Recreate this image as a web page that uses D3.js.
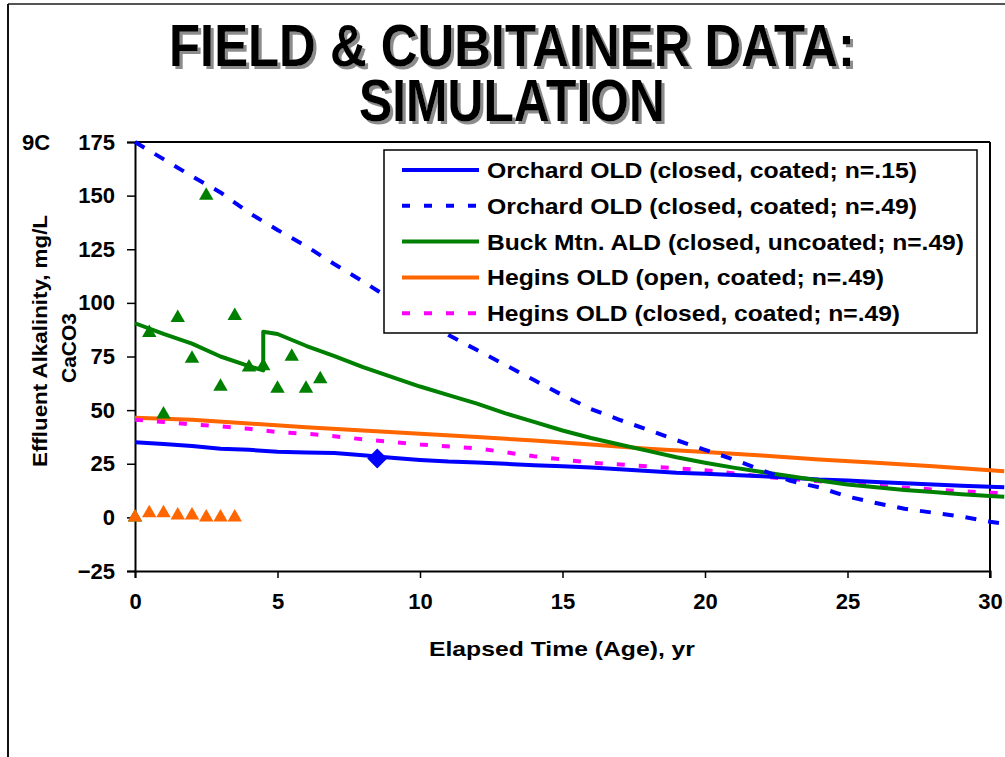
<!DOCTYPE html>
<html><head><meta charset="utf-8">
<script src="https://cdn.jsdelivr.net/npm/d3@7"></script>
<style>
html,body{margin:0;padding:0;background:#fff;}
svg text{font-family:"Liberation Sans",Arial,sans-serif;font-weight:bold;}
</style></head>
<body>
<svg id="chart" width="1005" height="757"></svg>
<script>
// ---- data ----
const titleLines = ["FIELD & CUBITAINER DATA:", "SIMULATION"];
const yTicks = [-25, 0, 25, 50, 75, 100, 125, 150, 175];
const xTicks = [0, 5, 10, 15, 20, 25, 30];

const orchard15T = [0,1,2,3,4,5,6,7,8,9,10,11,12,13,14,15,16,17,18,19,20,21,22,23,24,25,26,27,28,29,30,30.5];
const orchard15V = [35,34.2,33.3,32,31.5,30.6,30.3,30,29,27.8,26.8,26,25.6,25,24.3,23.8,23.2,22.4,21.6,20.8,20.3,19.7,19.2,18.5,17.7,17.2,16.5,15.9,15.3,14.8,14.3,14];

const orchard49T = [0,1,2,3,4,5,6,7,8,9,10,11,12,13,14,15,16,17,18,19,20,21,22,23,24,25,26,27,28,29,30,30.5];
const orchard49V = [175,167,159,151.5,142,134,126.5,118,110,101.5,93,85,78,71,64,57,50.5,45.5,40.8,36,31.5,27,22,17,14,9.7,6.7,4,2.2,0.4,-2,-3];

const buckT = [0,1,2,3,4,4.5,4.5,5,6,7,8,9,10,11,12,13,14,15,16,17,18,19,20,21,22,23,24,25,26,27,28,29,30,30.5];
const buckV = [90.5,85.5,81,75,70.5,68.5,86.5,85.5,80,75.2,70,65.5,61,57,53,48.5,44.5,40.5,37,34,31,28,25.5,23.2,21.2,19.2,17.2,15.3,14,12.8,11.8,10.8,10,9.6];

const heginsOpenT = [0,2,4,6,8,10,12,14,16,18,20,22,24,26,28,30,30.5];
const heginsOpenV = [46.5,45.5,43.8,42,40.5,39,37.5,35.8,34,32,30.5,28.8,27,25.5,23.8,22,21.5];

const heginsClosedT = [0,1,2,3,4,5,6,7,8,9,10,12,14,16,18,20,22,24,26,28,30,30.5];
const heginsClosedV = [45.5,44.5,43.3,42.5,41.3,39.8,39,37.8,36.4,35.2,34,32.2,28.5,25.5,23.8,22,19,16.8,14.8,13,11.5,11.2];

// field data (triangles)
const buckFieldT = [0,0.5,1,1.5,2,2.5,3,3.5,4,4.5,5,5.5,6,6.5];
const buckFieldV = [0,86,48,93,74,150,61,94,70,70.5,60,75,60,64.5];
const heginsFieldT = [0,0.5,1,1.5,2,2.5,3,3.5];
const heginsFieldV = [0,2,2,1,1,0,0,0];
// orchard field point (diamond)
const orchardFieldT = [8.5];
const orchardFieldV = [27.5];

const seriesNames = [
  "Orchard OLD (closed, coated; n=.15)",
  "Orchard OLD (closed, coated; n=.49)",
  "Buck Mtn. ALD (closed, uncoated; n=.49)",
  "Hegins OLD (open, coated; n=.49)",
  "Hegins OLD (closed, coated; n=.49)"
];
const seriesColors = ["#0000FF","#0000FF","#008000","#FF6600","#FF00FF"];
const seriesDash = [null,"11,12",null,null,"8,14"];
const legendTextWidths = [430, 430, 477, 397, 413];

// ---- drawing ----
const svg = d3.select("#chart");
const M = {left:135, right:990, top:142, bottom:571};
const x = d3.scaleLinear().domain([0,30]).range([M.left, M.right]);
const y = d3.scaleLinear().domain([-25,175]).range([M.bottom, M.top]);

const defs = svg.append("defs");
const f = defs.append("filter").attr("id","shadow").attr("x","-5%").attr("y","-20%").attr("width","110%").attr("height","150%");
f.append("feDropShadow").attr("dx",3).attr("dy",3).attr("stdDeviation",0.4).attr("flood-color","#8c8c8c").attr("flood-opacity",1);

// outer frame
svg.append("line").attr("x1",8).attr("x2",1005).attr("y1",4).attr("y2",4).attr("stroke","#555").attr("stroke-width",2);
svg.append("line").attr("x1",8).attr("x2",8).attr("y1",4).attr("y2",757).attr("stroke","#111").attr("stroke-width",2);

// title with shadow
titleLines.forEach((t,i)=>{
  const yy = 66 + i*55;
  svg.append("text").attr("x",512).attr("y",yy).attr("text-anchor","middle")
    .attr("font-size",60).attr("fill","#000").attr("filter","url(#shadow)")
    .attr("textLength", i===0?686:306).attr("lengthAdjust","spacingAndGlyphs").text(t);
});

// plot frame top/right
svg.append("line").attr("x1",M.left).attr("x2",M.right).attr("y1",M.top).attr("y2",M.top).attr("stroke","#000").attr("stroke-width",2);
svg.append("line").attr("x1",M.right).attr("x2",M.right).attr("y1",M.top).attr("y2",M.bottom+7).attr("stroke","#000").attr("stroke-width",2);

// axes
const yAxis = d3.axisLeft(y).tickValues(yTicks).tickSize(8).tickPadding(12).tickFormat(d3.format("d"));
const gy = svg.append("g").attr("transform",`translate(${M.left},0)`).call(yAxis);
const xAxis = d3.axisBottom(x).tickValues(xTicks).tickSize(7).tickPadding(15).tickFormat(d3.format("d"));
const gx = svg.append("g").attr("transform",`translate(0,${M.bottom})`).call(xAxis);
[gx,gy].forEach(g=>{
  g.select(".domain").attr("stroke","#000").attr("stroke-width",2);
  g.selectAll(".tick line").attr("stroke","#000").attr("stroke-width",1.5);
  g.selectAll(".tick text").attr("font-size",22).attr("fill","#000")
   .style("font-family","'Liberation Sans',Arial,sans-serif").style("font-weight","bold");
});

// axis titles
svg.append("text").attr("x",562).attr("y",656).attr("text-anchor","middle").attr("font-size",21)
  .attr("textLength",266).attr("lengthAdjust","spacingAndGlyphs").text("Elapsed Time (Age), yr");
svg.append("text").attr("transform","translate(47,341) rotate(-90)").attr("text-anchor","middle").attr("font-size",21)
  .attr("textLength",252).attr("lengthAdjust","spacingAndGlyphs").text("Effluent Alkalinity, mg/L");
svg.append("text").attr("transform","translate(76,348) rotate(-90)").attr("text-anchor","middle").attr("font-size",21)
  .text("CaCO3");
svg.append("text").attr("x",22).attr("y",150).attr("font-size",22).text("9C");

// lines
const line = d3.line().x(d=>x(d[0])).y(d=>y(d[1]));
const seriesData = [
  d3.zip(orchard15T, orchard15V),
  d3.zip(orchard49T, orchard49V),
  d3.zip(buckT, buckV),
  d3.zip(heginsOpenT, heginsOpenV),
  d3.zip(heginsClosedT, heginsClosedV)
];
const drawOrder = [3,4,0,2,1];
drawOrder.forEach(i=>{
  svg.append("path").datum(seriesData[i]).attr("d",line).attr("fill","none")
    .attr("stroke",seriesColors[i]).attr("stroke-width",4)
    .attr("stroke-dasharray",seriesDash[i]).attr("stroke-linejoin","round");
});

// markers
const tri = d3.symbol().type(d3.symbolTriangle).size(90);
svg.append("g").selectAll("path").data(d3.zip(buckFieldT,buckFieldV)).join("path")
  .attr("d",tri).attr("transform",d=>`translate(${x(d[0])},${y(d[1])})`).attr("fill","#008000");
svg.append("g").selectAll("path").data(d3.zip(heginsFieldT,heginsFieldV)).join("path")
  .attr("d",tri).attr("transform",d=>`translate(${x(d[0])},${y(d[1])})`).attr("fill","#FF6600");
svg.append("g").selectAll("path").data(d3.zip(orchardFieldT,orchardFieldV)).join("path")
  .attr("d",d3.symbol().type(d3.symbolSquare).size(200)).attr("transform",d=>`translate(${x(d[0])},${y(d[1])}) rotate(45)`).attr("fill","#0000FF");

// legend
const L = {x:384, y:150, w:593, h:183};
svg.append("rect").attr("x",L.x).attr("y",L.y).attr("width",L.w).attr("height",L.h).attr("fill","#fff").attr("stroke","#000").attr("stroke-width",1.5);
seriesNames.forEach((n,i)=>{
  const yy = 170 + i*35.8;
  svg.append("line").attr("x1",402).attr("x2",479).attr("y1",yy).attr("y2",yy)
    .attr("stroke",seriesColors[i]).attr("stroke-width",4).attr("stroke-dasharray",seriesDash[i] ? "8,14" : null);
  svg.append("text").attr("x",487).attr("y",yy+8).attr("font-size",22)
    .attr("textLength",legendTextWidths[i]).attr("lengthAdjust","spacingAndGlyphs").text(n);
});
</script>
</body></html>
